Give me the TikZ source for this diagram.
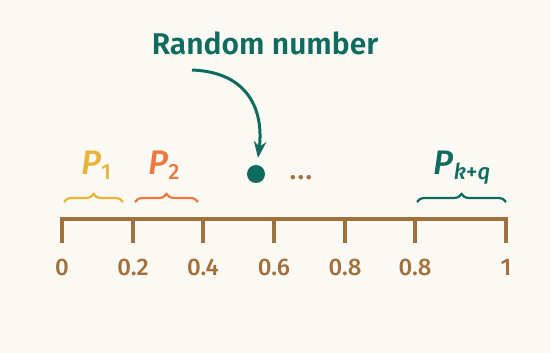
\documentclass[tikz,border=0pt]{standalone}
\usepackage{fontspec}
\setmainfont{Fira Sans}
\newfontfamily\semifont{Fira Sans SemiBold}
\newfontfamily\medfont{Fira Sans Medium}[ItalicFont={Fira Sans Medium Italic}]
\usetikzlibrary{decorations.pathreplacing,arrows.meta}
\definecolor{paper}{HTML}{FBF9F3}
\definecolor{axisbrown}{HTML}{A2703A}
\definecolor{rndteal}{HTML}{0F6B5E}
\definecolor{pyellow}{HTML}{E9B43A}
\definecolor{porange}{HTML}{EE7840}
\newcommand{\psub}[1]{\textit{P}\raisebox{-5pt}{\fontsize{22}{22}\selectfont#1}}
\begin{document}
\begin{tikzpicture}[x=1pt,y=-1pt,>=Stealth,
		brc/.style={decorate,decoration={brace,amplitude=8pt},line width=2.2pt},
		ticklbl/.style={font=\medfont\fontsize{24}{26}\selectfont,text=axisbrown,anchor=base},
		plbl/.style={font=\medfont\fontsize{34}{36}\selectfont,anchor=base}]
		\fill[paper] (0,0) rectangle (550,353);\useasboundingbox (0,0) rectangle (550,353);
		% axis with ticks and labels
		\foreach \i/\x/\l in {0/62/0,1/133/0.2,2/203/0.4,3/274/0.6,4/345/0.8,5/415/0.8,6/506/1}{\coordinate (t\i) at (\x,219);\node[ticklbl] (l\i) at (\x,276) {\l};}
		\draw[axisbrown,line width=4.5pt] (62,243)--(t0)--(t6)--(506,243);
		\foreach \i in {1,...,5}{\draw[axisbrown,line width=4.5pt] (t\i)--++(0,24);}
		% intervals
		\draw[brc,pyellow] (64,202)--(123,202);\node[plbl,text=pyellow] (p1) at (96,175) {\psub{1}};
		\draw[brc,porange] (135,202)--(198,202);\node[plbl,text=porange] (p2) at (164,175) {\psub{2}};
		\draw[brc,rndteal] (417,202)--(506,202);\node[plbl,text=rndteal] (pk) at (462,175) {\psub{\textit{k}+\textit{q}}};
		% random number
		\node[circle,fill=rndteal,minimum size=18pt,inner sep=0pt] (hit) at (256,174) {};
		\node[text=axisbrown,font=\fontsize{32}{32}\selectfont,anchor=base] (dots) at (301,180) {…};
		\node[text=rndteal,font=\semifont\fontsize{30}{32}\selectfont] (title) at (265,43) {Random number};
		\coordinate (src) at (192,70);
		\draw[->,rndteal,line width=3pt,shorten >=7pt] (src) .. controls (248,72) and (264,110) .. (hit);
	\end{tikzpicture}
\end{document}
